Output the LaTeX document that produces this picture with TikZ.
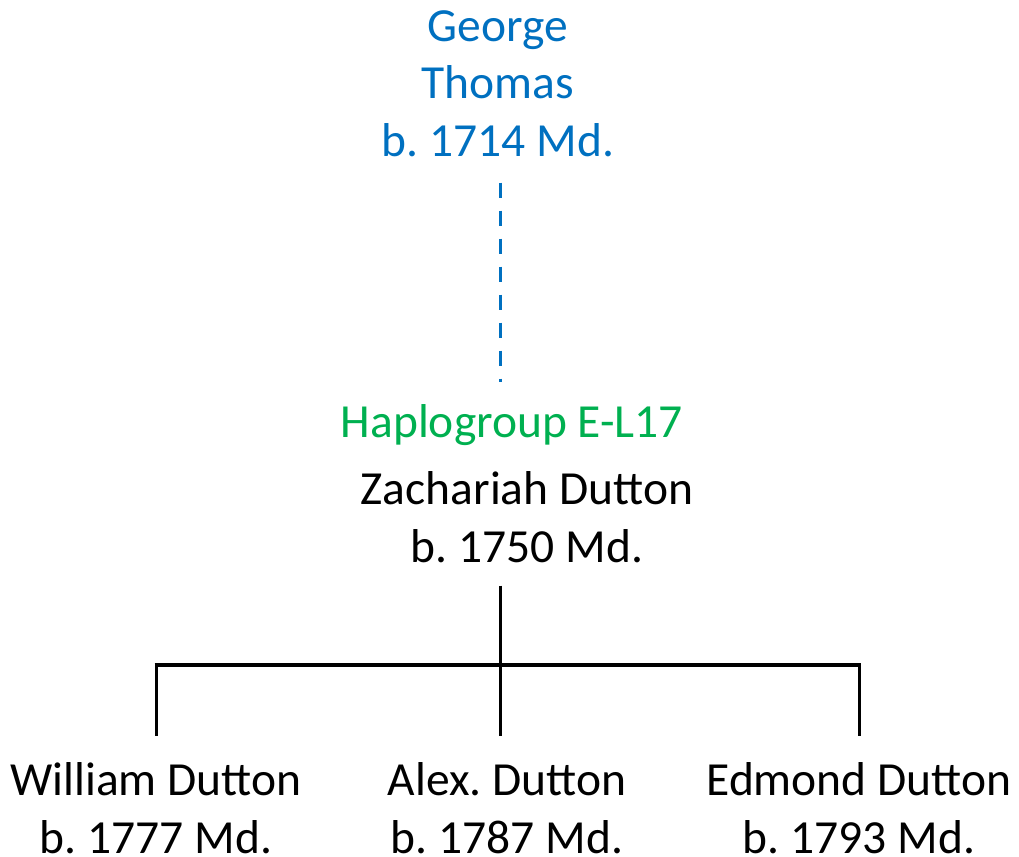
\documentclass[tikz,border=0pt]{standalone}
\usepackage{fontspec}
\setmainfont{Carlito}
\usetikzlibrary{positioning}
\definecolor{tomblue}{HTML}{0070C0}
\definecolor{halgreen}{HTML}{00B050}
\frenchspacing

\begin{document}
\begin{tikzpicture}[x=1pt, y=1pt,
    person/.style={align=center, inner sep=0pt, anchor=base,
      font=\fontsize{47.5}{57.5}\selectfont},
    kin/.style={draw=black, line width=3pt},
    lineage/.style={draw=tomblue, line width=3pt, dash pattern=on 15pt off 13pt}]

  \useasboundingbox (0,0) rectangle (1019,-856);

  % Define nodes (anchor = baseline of last line)
  \node[person, text=tomblue] (george) at (498,-156) {George\\Thomas\\b. 1714 Md.};
  \node[person, text=halgreen] (haplo) at (512,-437) {Haplogroup E-L17};
  \node[person] (zach) at (527,-562) {Zachariah Dutton\\b. 1750 Md.};

  % Children
  \node[person] (william) at (156,-853) {William Dutton\\b. 1777 Md.};
  \node[person] (alex) at (507,-853) {Alex. Dutton\\b. 1787 Md.};
  \node[person] (edmond) at (859,-853) {Edmond Dutton\\b. 1793 Md.};

  \coordinate (fork) at (500,-665);

  % George --> Zachariah
  \draw[lineage, shorten <=26pt, shorten >=22pt] (george.south -| fork) -- (fork |- haplo.north);

  % Zachariah --> children
  \draw[kin, shorten <=23pt] (fork |- zach.south) -- (fork);
  \draw[kin, line width=4pt] ([xshift=-1.5pt]fork -| william) -- ([xshift=1.5pt]fork -| edmond);
  \draw[kin, shorten >=26pt] (fork -| william) -- (william.north);
  \draw[kin, shorten >=26pt] (fork) -- (fork |- alex.north);
  \draw[kin, shorten >=26pt] (fork -| edmond) -- (edmond.north);

\end{tikzpicture}
\end{document}
